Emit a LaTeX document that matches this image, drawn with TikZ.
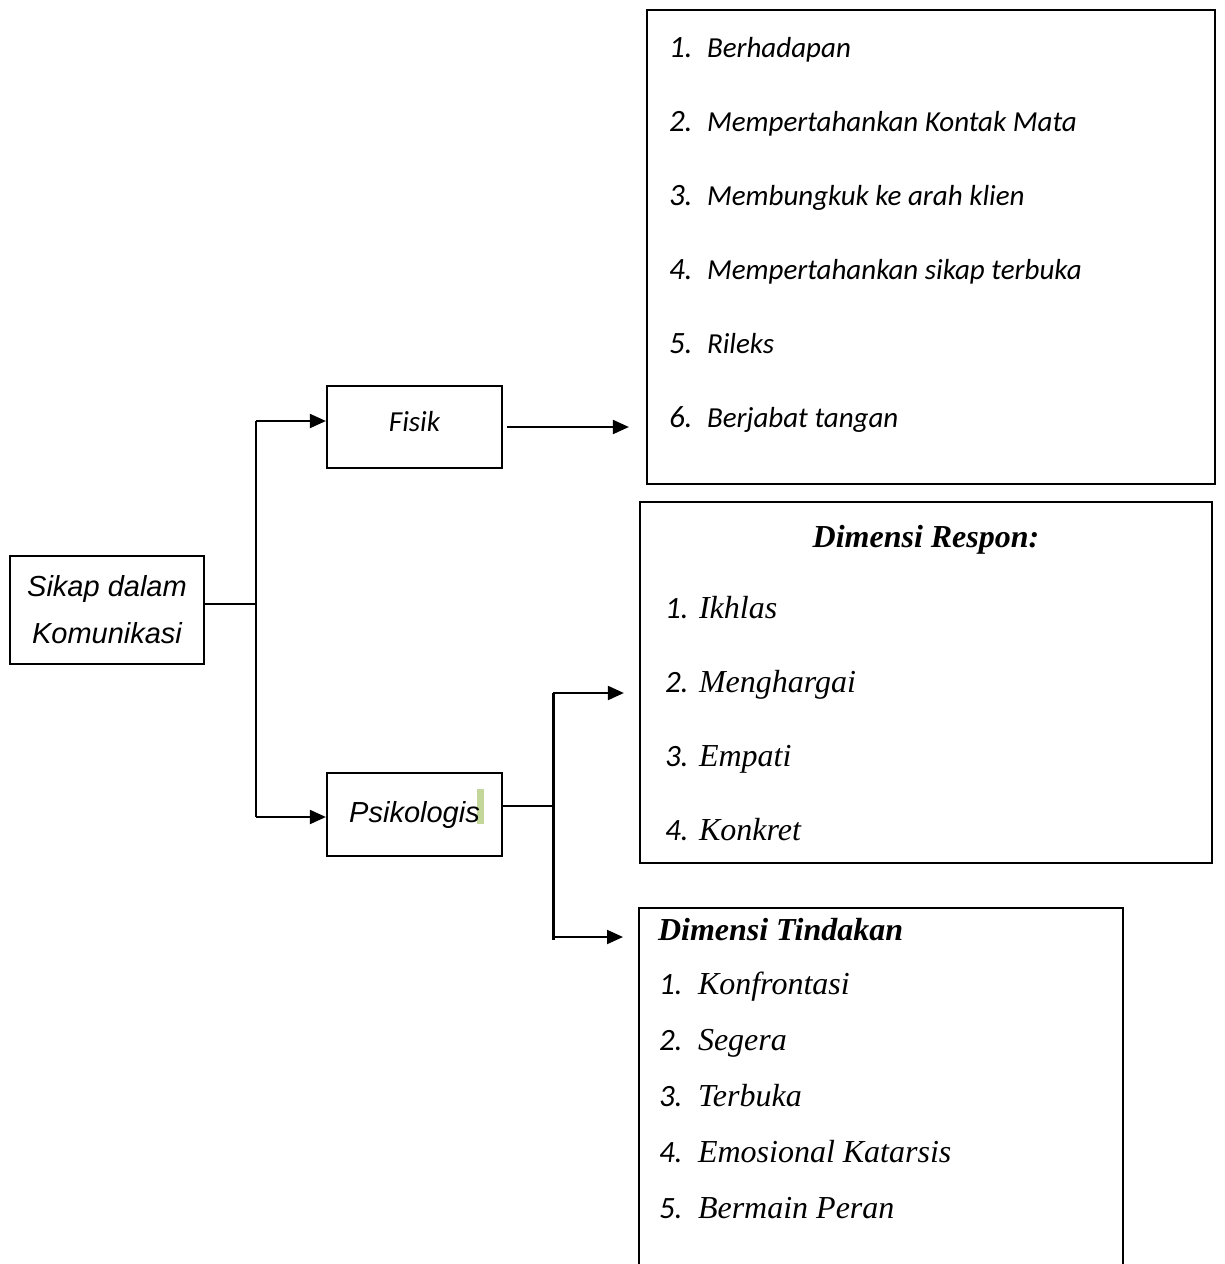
\documentclass[tikz,border=0pt]{standalone}
\usepackage{fontspec}
\setmainfont{Liberation Sans}
\newfontfamily\carlito{Carlito}
\newfontfamily\tnr{Liberation Serif}
\usetikzlibrary{arrows.meta, positioning}
\definecolor{hlgreen}{HTML}{C4D79B}

\begin{document}
\begin{tikzpicture}[->,>={Triangle[length=16pt,width=14pt]},x=1pt,y=-1pt,
 line width=2pt]
 \tikzstyle{box}=[draw,rectangle,line width=2.2pt,inner sep=0pt]
 \tikzstyle{arial}=[font=\fontsize{29}{47}\selectfont\itshape]
 \tikzstyle{cal}=[font=\carlito\fontsize{29}{35}\selectfont\itshape]
 \tikzstyle{itemf}=[cal,anchor=base west,inner sep=0pt]
 \tikzstyle{itemt}=[font=\tnr\fontsize{32}{38}\selectfont\itshape,anchor=base west,inner sep=0pt]
 \tikzstyle{head}=[font=\tnr\fontsize{32}{38}\selectfont\bfseries\itshape,inner sep=0pt]
 \newcommand{\nomor}[1]{{\carlito\fontsize{31}{35}\selectfont\itshape #1.}}

 \useasboundingbox (0,0) rectangle (1224,1264);

 \fill[hlgreen] (477,789) rectangle (484,824);

 \node[box,arial,align=center,minimum width=194pt,minimum height=108pt] (root) at (107,610) {Sikap dalam\\Komunikasi};
 \node[box,cal,minimum width=175pt,minimum height=82pt,text depth=12pt] (fisik) at (414.5,427) {Fisik};
 \node[box,arial,minimum width=175pt,minimum height=83pt] (psiko) [below=303pt of fisik] {Psikologis};

 \node[box,minimum width=568pt,minimum height=474pt] (listf) at (931,247) {};
 \node[box,minimum width=572pt,minimum height=361pt] (respon) at (926,682.5) {};
 \node[box,anchor=north west,minimum width=484pt,minimum height=400pt] (tind) at (638,907) {};

 % isi kotak
 \foreach \i/\txt in {1/Berhadapan, 2/Mempertahankan Kontak Mata, 3/Membungkuk ke arah klien,
   4/Mempertahankan sikap terbuka, 5/Rileks, 6/Berjabat tangan}
  \node[itemf] (f\i) at (668,{57+74*(\i-1)}) {\makebox[38pt][l]{\nomor{\i}}\txt};

 \node[head,anchor=base] (rhead) at (926,547) {Dimensi Respon:};
 \foreach \i/\txt in {1/Ikhlas, 2/Menghargai, 3/Empati, 4/Konkret}
  \node[itemt] (r\i) at (664,{618+74.3*(\i-1)}) {\makebox[34pt][l]{\nomor{\i}}\txt};

 \node[head,anchor=base west] (thead) at (657,940) {Dimensi Tindakan};
 \foreach \i/\txt in {1/Konfrontasi, 2/Segera, 3/Terbuka, 4/Emosional Katarsis, 5/Bermain Peran}
  \node[itemt] (t\i) at (658,{994+56*(\i-1)}) {\makebox[39pt][l]{\nomor{\i}}\txt};

 % garis penghubung
 \coordinate (j1) at (256,604);
 \coordinate (j1a) at (256,421);
 \coordinate (j1b) at (256,817);
 \draw[-,line width=2.4pt] (root.east |- j1) -- (j1);
 \draw[-,line width=1.8pt] (j1a) -- (j1b);
 \draw (j1a) -- (j1a -| fisik.west);
 \draw (j1b) -- (j1b -| psiko.west);
 \draw[shorten <=4pt,shorten >=17pt] (fisik.east) -- (fisik.east -| listf.west);

 \coordinate (j2) at (553,806);
 \coordinate (j2a) at (553,693);
 \coordinate (j2b) at (553,937);
 \draw[-,line width=1.6pt] (j2 -| psiko.east) -- (j2);
 \draw[-,line width=3pt] (j2a) -- ([yshift=-3pt]j2b);
 \draw[shorten >=15pt] (j2a) -- (j2a -| respon.west);
 \draw[shorten >=15pt] (j2b) -- (j2b -| tind.west);
\end{tikzpicture}
\end{document}
